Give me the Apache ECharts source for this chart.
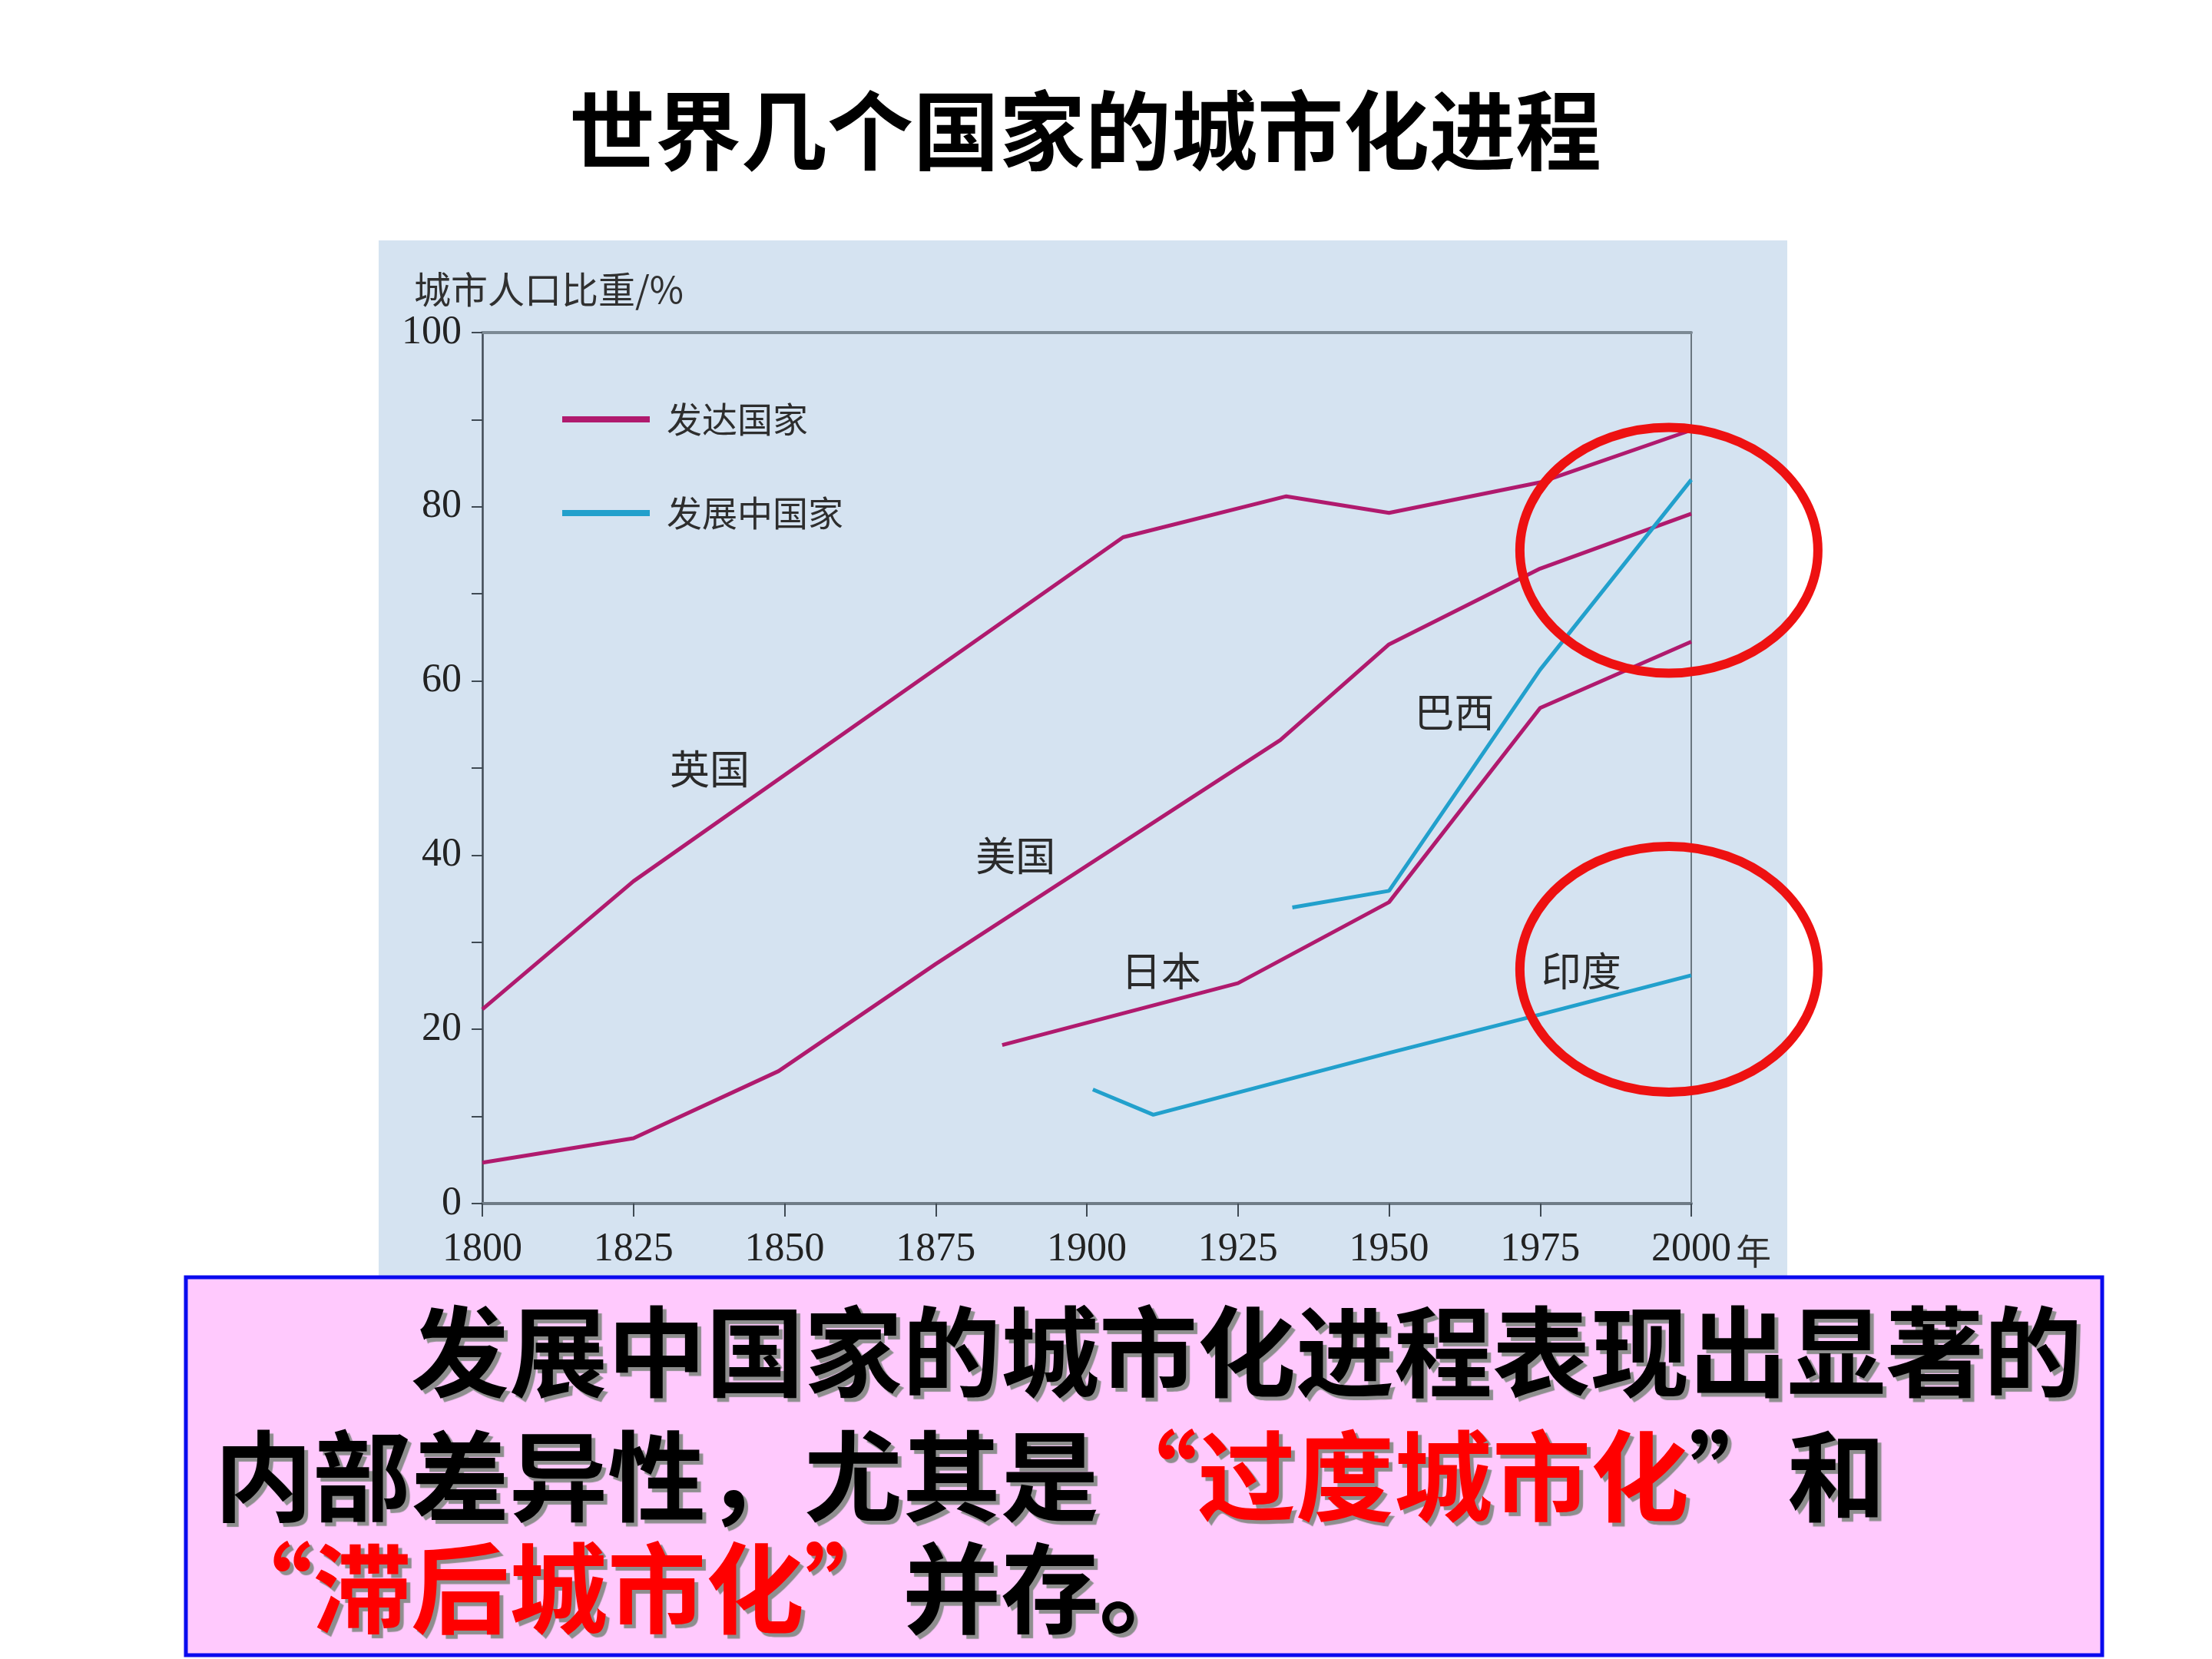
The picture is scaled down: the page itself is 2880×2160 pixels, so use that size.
<!DOCTYPE html>
<html><head><meta charset="utf-8">
<script src="https://cdn.jsdelivr.net/npm/echarts@6/dist/echarts.min.js"></script>
<style>html,body{margin:0;padding:0;background:#fff}#c{width:2880px;height:2160px}</style>
</head><body><div id="c"></div><script>
// ---- data ----
const ukYears  = [1800, 1825, 1906, 1933, 1950, 1975, 2000];
const ukValues = [22.3, 37.0, 76.5, 81.2, 79.3, 82.8, 88.8];
const usYears  = [1800, 1825, 1849, 1875, 1932, 1950, 1975, 2000];
const usValues = [4.7, 7.5, 15.2, 27.5, 53.2, 64.2, 72.9, 79.2];
const jpYears  = [1886, 1925, 1950, 1975, 2000];
const jpValues = [18.2, 25.3, 34.6, 56.9, 64.5];
const brYears  = [1934, 1950, 1975, 2000];
const brValues = [34.0, 35.9, 61.3, 83.1];
const inYears  = [1901, 1911, 1950, 1975, 2000];
const inValues = [13.1, 10.2, 17.3, 21.7, 26.2];
const xTickLabels = ['1800','1825','1850','1875','1900','1925','1950','1975','2000'];
const yTickLabels = ['0','20','40','60','80','100'];
const groupNames = ['发达国家', '发展中国家'];
const countryNames = ['英国', '美国', '日本', '巴西', '印度'];
// annotation anchors (data coordinates)
const countryLabelAt = [[1837.6, 49.9], [1888.2, 39.9], [1912.3, 26.7], [1960.8, 56.4], [1981.8, 26.7]];
const circleCenters = [[1996.3, 75.0], [1996.3, 26.9]];
const titleText = '世界几个国家的城市化进程';
const yAxisTitle = '城市人口比重/%';
const xUnit = '年';

const zip = (xs, ys) => xs.map((x, i) => [x, ys[i]]);
const PINK = '#b01a6e', BLUE = '#22a0cc';
const CJK = "'Noto Sans CJK SC', 'Noto Sans', sans-serif";
const SERIF = "'Liberation Serif', 'Times New Roman', serif";

const chart = echarts.init(document.getElementById('c'));
function line(name, color, data) {
  return { type: 'line', name: name, data: data, color: color, symbol: 'none', showSymbol: false,
           lineStyle: { color: color, width: 5 }, z: 3, silent: true };
}
const option = {
  animation: false,
  backgroundColor: '#ffffff',
  title: { text: titleText, left: 1408, top: 109, textAlign: 'center',
           textStyle: { fontFamily: CJK, fontWeight: 'bold', fontSize: 112, lineHeight: 112, color: '#000' } },
  grid: { left: 628, top: 433, width: 1574, height: 1134, containLabel: false },
  legend: { orient: 'vertical', left: 727, top: 518, itemWidth: 114, itemHeight: 8, itemGap: 76,
            icon: 'rect', data: groupNames,
            textStyle: { fontFamily: CJK, fontSize: 46, color: '#2e2e2e', lineHeight: 44, padding: [0, 0, 0, 17] } },
  xAxis: [
    { type: 'value', min: 1800, max: 2000, interval: 25,
      axisLine: { show: true, onZero: false, lineStyle: { color: '#6f7c87', width: 4 } },
      axisTick: { show: true, inside: false, length: 17, lineStyle: { color: '#3f4a54', width: 2 } },
      axisLabel: { margin: 34, fontFamily: SERIF, fontSize: 52, color: '#222',
                   formatter: v => xTickLabels[Math.round((v - 1800) / 25)] },
      splitLine: { show: false } },
    { type: 'value', position: 'top', min: 1800, max: 2000,
      axisLine: { show: true, onZero: false, lineStyle: { color: '#7c8a95', width: 4 } },
      axisTick: { show: false }, axisLabel: { show: false }, splitLine: { show: false } }
  ],
  yAxis: [
    { type: 'value', min: 0, max: 100, interval: 10,
      axisLine: { show: true, onZero: false, lineStyle: { color: '#3f4a54', width: 2.5 } },
      axisTick: { show: true, inside: false, length: 14, lineStyle: { color: '#3f4a54', width: 2 } },
      axisLabel: { margin: 27, fontFamily: SERIF, fontSize: 52, color: '#222',
                   formatter: v => (v % 20 === 0 ? yTickLabels[v / 20] : '') },
      splitLine: { show: false } },
    { type: 'value', position: 'right', min: 0, max: 100,
      axisLine: { show: true, onZero: false, lineStyle: { color: '#6a7680', width: 2 } },
      axisTick: { show: false }, axisLabel: { show: false }, splitLine: { show: false } }
  ],
  series: [
    line(groupNames[0], PINK, zip(ukYears, ukValues)),
    line(groupNames[0], PINK, zip(usYears, usValues)),
    line(groupNames[0], PINK, zip(jpYears, jpValues)),
    line(groupNames[1], BLUE, zip(brYears, brValues)),
    line(groupNames[1], BLUE, zip(inYears, inValues))
  ]
};
chart.setOption(option);

// ---- annotations placed through the chart's own scales ----
const px = p => chart.convertToPixel({ gridIndex: 0 }, p);
const g = [];
g.push({ type: 'rect', z: -100, shape: { x: 493, y: 313, width: 1834, height: 1351 },
         style: { fill: '#d5e3f1' } });
g.push({ type: 'text', x: 539, y: 377, z: 5,
         style: { text: yAxisTitle, font: "48px " + CJK, fill: '#303030', verticalAlign: 'middle', align: 'left' } });
const end = px([2000, 0]);
g.push({ type: 'text', x: end[0] + 58, y: end[1] + 62, z: 5,
         style: { text: xUnit, font: "46px " + CJK, fill: '#303030', verticalAlign: 'middle', align: 'left' } });
countryNames.forEach((n, i) => {
  const p = px(countryLabelAt[i]);
  g.push({ type: 'text', x: p[0], y: p[1], z: 5,
           style: { text: n, font: "52px " + CJK, fill: '#2a2a2a', align: 'center', verticalAlign: 'middle' } });
});
circleCenters.forEach(c => {
  const p = px(c);
  g.push({ type: 'ellipse', z: 50, shape: { cx: p[0], cy: p[1], rx: 194, ry: 160 },
           style: { fill: 'none', stroke: '#ee1111', lineWidth: 12 } });
});
g.push({ type: 'rect', z: 60, shape: { x: 242, y: 1663, width: 2495, height: 492 },
         style: { fill: '#ffc9fd', stroke: '#0a0aee', lineWidth: 5 } });
const F = "bold 128px " + CJK;
const sh = { textShadowColor: '#8e8e8e', textShadowOffsetX: 5, textShadowOffsetY: 5, textShadowBlur: 1 };
const blk = Object.assign({ font: F, fill: '#000000' }, sh);
const red = Object.assign({ font: F, fill: '#ff0000' }, sh);
g.push({ type: 'text', z: 61, x: 535, y: 1760,
         style: Object.assign({ text: '发展中国家的城市化进程表现出显著的', verticalAlign: 'middle', align: 'left' }, blk) });
g.push({ type: 'text', z: 61, x: 279, y: 1922,
         style: Object.assign({ text: '{k|内部差异性，尤其是}{r|“过度城市化}{k|”和}', verticalAlign: 'middle', align: 'left',
                                rich: { k: blk, r: red } }, blk) });
g.push({ type: 'text', z: 61, x: 279, y: 2068,
         style: Object.assign({ text: '{r|“滞后城市化”}{k|并存。}', verticalAlign: 'middle', align: 'left',
                                rich: { k: blk, r: red } }, blk) });
chart.setOption({ graphic: g });
</script></body></html>
